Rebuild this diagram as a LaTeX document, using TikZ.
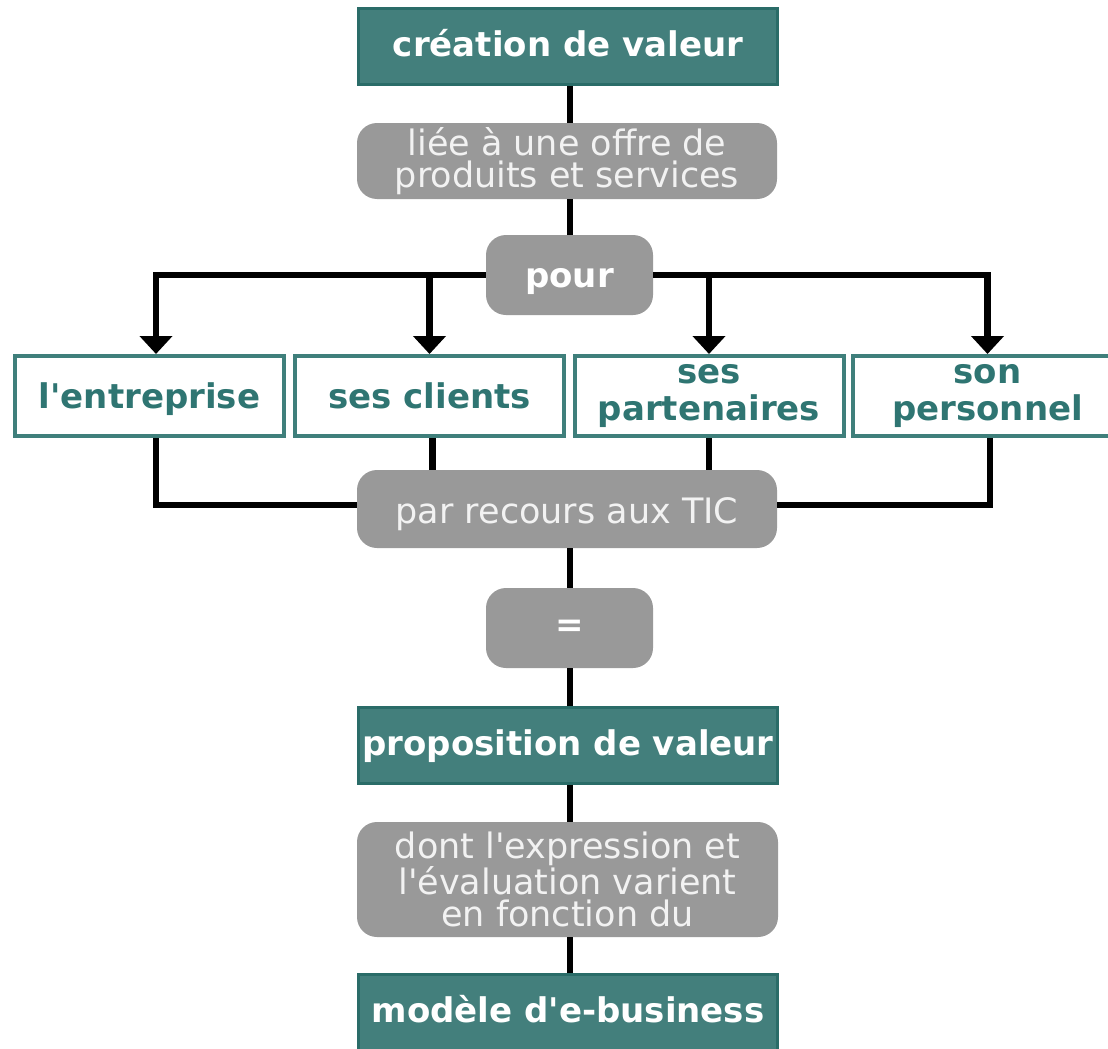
\documentclass[tikz,border=0pt]{standalone}
\usepackage{fontspec}
\setmainfont{DejaVu Sans}[Ligatures=TeXOff]
\usetikzlibrary{arrows.meta}
\definecolor{tealF}{HTML}{437F7C}
\definecolor{tealB}{HTML}{2A6C68}
\definecolor{tealW}{HTML}{3F7F7B}
\definecolor{tealT}{HTML}{2F7572}
\definecolor{grayF}{HTML}{999999}
\definecolor{grayT}{HTML}{F2F2F2}
\begin{document}
\begin{tikzpicture}[x=1pt,y=-1pt,
  tealbox/.style={draw=tealB, line width=3, fill=tealF, text=white,
    font=\fontsize{34}{36}\selectfont\bfseries, minimum width=419,
    minimum height=76, inner sep=0, text height=26, text depth=6},
  graybox/.style={fill=grayF, rounded corners=20, text=grayT,
    font=\fontsize{35}{32.5}\selectfont, inner sep=0, align=center},
  graybold/.style={graybox, minimum width=167, minimum height=80,
    font=\fontsize{34}{36}\selectfont\bfseries, text=white},
  whitebox/.style={draw=tealW, line width=4, fill=white, text=tealT,
    font=\fontsize{34}{37}\selectfont\bfseries, minimum width=269,
    minimum height=80, align=center, inner sep=0},
  oneline/.style={text height=28, text depth=4},
  conn/.style={draw=black, line width=6.5},
  arr/.style={conn, -{Triangle[width=32, length=18]}}
]
\useasboundingbox (0,0) rectangle (1108,1049);

\node[tealbox] (cv) at (568,46.5) {création de valeur};
\node[graybox, minimum width=420, minimum height=76] (offre) at (567,161)
  {liée à une offre de\\produits et services};
\node[graybold, text height=28, text depth=4] (pour) at (569.5,275) {pour};
\node[whitebox, oneline] (e1) at (149.5,396) {l'entreprise};
\node[whitebox, oneline] (e2) at (429.5,396) {ses clients};
\node[whitebox] (e3) at (709,396) {ses\\partenaires};
\node[whitebox] (e4) at (987.5,396) {son\\personnel};
\node[graybox, minimum width=420, minimum height=78, text height=30, text depth=2] (tic) at (567,509)
  {par recours aux TIC};
\node[graybold] (eq) at (569.5,628) {=};
\node[tealbox] (pv) at (568,745) {proposition de valeur};
\node[graybox, minimum width=421, minimum height=115] (dont) at (567.5,879.5)
  {dont l'expression et\\l'évaluation varient\\en fonction du};
\node[tealbox] (mod) at (568,1012) {modèle d'e-business};

\draw[conn] (cv.south -| 570,0) -- (offre.north -| 570,0);
\draw[conn] (offre.south -| 570,0) -- (pour.north -| 570,0);
\draw[arr] (pour.west) -| ([xshift=6.5]e1.north);
\draw[arr] (pour.east) -| (e4.north);
\draw[arr] (pour.west -| e2.north) -- (e2.north);
\draw[arr] (pour.east -| e3.north) -- (e3.north);
\draw[conn] ([xshift=6.5]e1.south) |- ([yshift=4]tic.west);
\draw[conn] ([xshift=2.5]e4.south) |- ([yshift=4]tic.east);
\draw[conn] ([xshift=3]e2.south) -- ([xshift=3]e2.south |- tic.north);
\draw[conn] (e3.south) -- (e3.south |- tic.north);
\draw[conn] (tic.south -| 570,0) -- (eq.north -| 570,0);
\draw[conn] (eq.south -| 570,0) -- (pv.north -| 570,0);
\draw[conn] (pv.south -| 570,0) -- (dont.north -| 570,0);
\draw[conn] (dont.south -| 570,0) -- (mod.north -| 570,0);
\end{tikzpicture}
\end{document}
